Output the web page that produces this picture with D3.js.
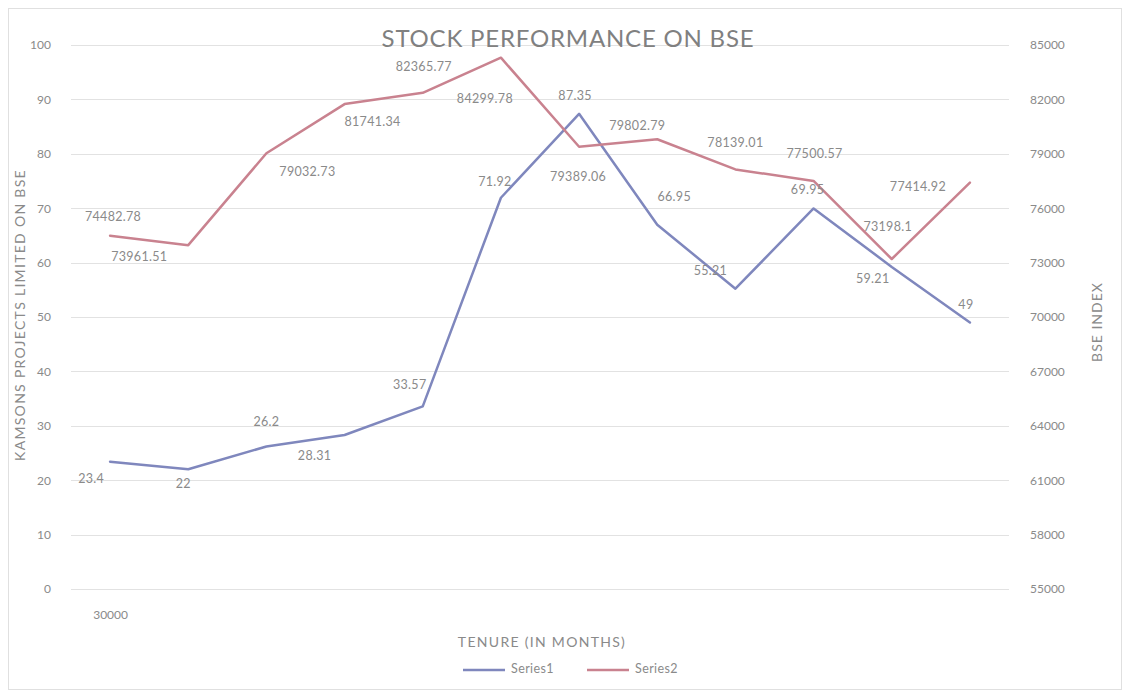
<!DOCTYPE html>
<html>
<head>
<meta charset="utf-8">
<script src="https://cdn.jsdelivr.net/npm/d3@7"></script>
<style>
  html, body { margin: 0; padding: 0; background: #ffffff; }
  svg { display: block; font-family: Lato, "Open Sans", sans-serif; }
</style>
</head>
<body>
<svg id="chart" width="1130" height="698"></svg>
<script>
// ---------- data ----------
const categories = ["Apr", "May", "Jun", "Jul", "Aug", "Sep", "Oct", "Nov", "Dec", "Jan", "Feb", "Mar"];
const categoryLabels = ["30000", "", "", "", "", "", "", "", "", "", "", ""];
const series1 = [23.4, 22, 26.2, 28.31, 33.57, 71.92, 87.35, 66.95, 55.21, 69.95, 59.21, 49];
const series2 = [74482.78, 73961.51, 79032.73, 81741.34, 82365.77, 84299.78, 79389.06, 79802.79, 78139.01, 77500.57, 73198.1, 77414.92];
const leftTicks = [0, 10, 20, 30, 40, 50, 60, 70, 80, 90, 100];
const rightTicks = [55000, 58000, 61000, 64000, 67000, 70000, 73000, 76000, 79000, 82000, 85000];
const seriesNames = ["Series1", "Series2"];

// ---------- layout / style config ----------
const plot = { left: 71, right: 1009, top: 45, bottom: 589 };
const colors = { s1: "#7f87bd", s2: "#c9828f", grid: "#e2e2e2", text: "#8a8a8a" };
// data label offsets (label centre relative to point)
const s1LabelOffsets = [[-19, 18], [-5, 16], [0, -24], [-30, 22], [-13, -21], [-6, -15], [-4, -17], [17, -27], [-25, -17], [-6, -18], [-19, 13], [-4, -17]];
const s2LabelOffsets = [[3, -18], [-49, 13], [41, 20], [28, 19], [1, -25], [-16, 42], [-1, 31], [-20, -12], [0, -26], [1, -26], [-4, -31], [-52, 5]];

const svg = d3.select("#chart");

// chart border
svg.append("rect").attr("x", 8.5).attr("y", 8.5).attr("width", 1113).attr("height", 681)
  .attr("fill", "#fff").attr("stroke", "#e0e0e0");

const x = d3.scalePoint().domain(categories).range([plot.left, plot.right]).padding(0.5);
const yL = d3.scaleLinear().domain([0, 100]).range([plot.bottom, plot.top]);
const yR = d3.scaleLinear().domain([55000, 85000]).range([plot.bottom, plot.top]);

// gridlines
svg.append("g").selectAll("line").data(leftTicks).join("line")
  .attr("x1", plot.left).attr("x2", plot.right)
  .attr("y1", d => Math.round(yL(d)) + 0.5).attr("y2", d => Math.round(yL(d)) + 0.5)
  .attr("stroke", colors.grid).attr("stroke-width", 1);

// left axis
const leftAxis = svg.append("g").attr("transform", `translate(${plot.left},0)`)
  .call(d3.axisLeft(yL).tickValues(leftTicks).tickSize(0).tickPadding(20));
leftAxis.select(".domain").remove();
leftAxis.selectAll("text").attr("fill", colors.text).style("font-size", "12px").style("font-family", "Lato, sans-serif");

// right axis
const rightAxis = svg.append("g").attr("transform", `translate(${plot.right},0)`)
  .call(d3.axisRight(yR).tickValues(rightTicks).tickSize(0).tickPadding(21).tickFormat(d3.format("d")));
rightAxis.select(".domain").remove();
rightAxis.selectAll("text").attr("fill", colors.text).style("font-size", "12px").style("font-family", "Lato, sans-serif");

// bottom category axis
const bottomAxis = svg.append("g").attr("transform", `translate(0,${plot.bottom})`)
  .call(d3.axisBottom(x).tickSize(0).tickPadding(21).tickFormat((d, i) => categoryLabels[i]));
bottomAxis.select(".domain").remove();
bottomAxis.selectAll("text").attr("fill", colors.text).style("font-size", "12px").style("font-family", "Lato, sans-serif");

// lines
const line1 = d3.line().x((d, i) => x(categories[i])).y(d => yL(d));
const line2 = d3.line().x((d, i) => x(categories[i])).y(d => yR(d));
svg.append("path").datum(series1).attr("d", line1).attr("fill", "none")
  .attr("stroke", colors.s1).attr("stroke-width", 2.5).attr("stroke-linejoin", "round").attr("stroke-linecap", "round");
svg.append("path").datum(series2).attr("d", line2).attr("fill", "none")
  .attr("stroke", colors.s2).attr("stroke-width", 2.5).attr("stroke-linejoin", "round").attr("stroke-linecap", "round");

// data labels
svg.append("g").selectAll("text").data(series1).join("text")
  .attr("x", (d, i) => x(categories[i]) + s1LabelOffsets[i][0])
  .attr("y", (d, i) => yL(d) + s1LabelOffsets[i][1])
  .attr("text-anchor", "middle").attr("dominant-baseline", "middle")
  .attr("fill", colors.text).style("font-size", "12.5px").style("letter-spacing", "0.3px").text(d => d);
svg.append("g").selectAll("text").data(series2).join("text")
  .attr("x", (d, i) => x(categories[i]) + s2LabelOffsets[i][0])
  .attr("y", (d, i) => yR(d) + s2LabelOffsets[i][1])
  .attr("text-anchor", "middle").attr("dominant-baseline", "middle")
  .attr("fill", colors.text).style("font-size", "12.5px").style("letter-spacing", "0.3px").text(d => d);

// title
svg.append("text").attr("x", 568).attr("y", 41).attr("text-anchor", "middle").attr("dominant-baseline", "middle")
  .attr("fill", "#808080").style("font-size", "24px").style("letter-spacing", "0.8px").text("STOCK PERFORMANCE ON BSE");

// axis titles
svg.append("text").attr("transform", "translate(21,315) rotate(-90)").attr("text-anchor", "middle")
  .attr("dominant-baseline", "middle").attr("fill", colors.text).style("font-size", "14px").style("letter-spacing", "1.3px")
  .text("KAMSONS PROJECTS LIMITED ON BSE");
svg.append("text").attr("transform", "translate(1098,322) rotate(-90)").attr("text-anchor", "middle")
  .attr("dominant-baseline", "middle").attr("fill", colors.text).style("font-size", "14px").style("letter-spacing", "1px")
  .text("BSE INDEX");
svg.append("text").attr("x", 542).attr("y", 643).attr("text-anchor", "middle").attr("dominant-baseline", "middle")
  .attr("fill", colors.text).style("font-size", "14px").style("letter-spacing", "1.3px").text("TENURE (IN MONTHS)");

// legend
const legend = svg.append("g").attr("transform", "translate(463,670)");
const legendItems = legend.selectAll("g").data(seriesNames).join("g")
  .attr("transform", (d, i) => `translate(${i * 124},0)`);
legendItems.append("line").attr("x1", 0).attr("x2", 42).attr("y1", 0).attr("y2", 0)
  .attr("stroke", (d, i) => i === 0 ? colors.s1 : colors.s2).attr("stroke-width", 2.5);
legendItems.append("text").attr("x", 48).attr("y", 0).attr("dominant-baseline", "middle")
  .attr("fill", colors.text).style("font-size", "12.5px").style("letter-spacing", "0.4px").text(d => d);
</script>
</body>
</html>
